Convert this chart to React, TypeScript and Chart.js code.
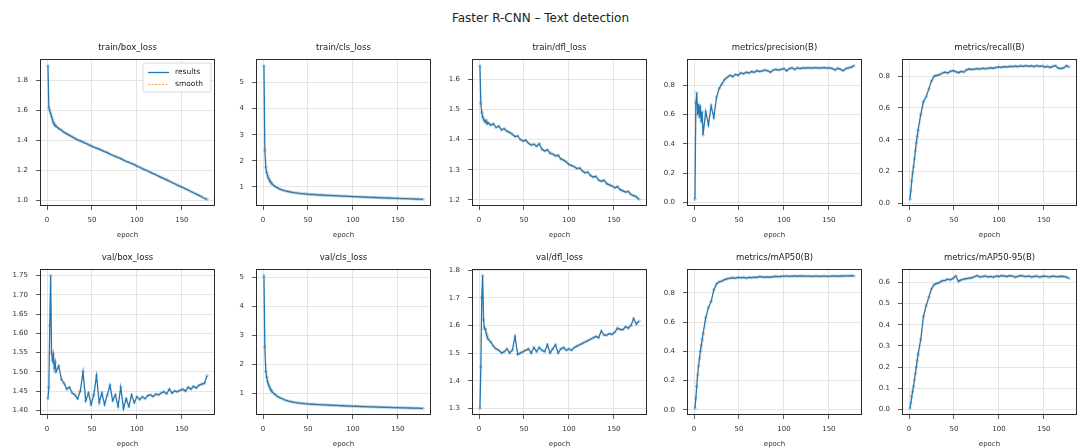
import React, { useEffect, useRef } from "react";
import { Chart, registerables } from "chart.js";

Chart.register(...registerables);

// Epochs at which the training log is plotted
const EPOCHS = [
  1, 2, 3, 4, 5, 6, 7, 8, 9, 10, 13, 16, 19, 22, 25, 28, 31, 34, 37, 40, 43, 46, 49, 52, 55, 58, 61, 64, 67, 70,
  73, 76, 79, 82, 85, 88, 91, 94, 97, 100, 103, 106, 109, 112, 115, 118, 121, 124, 127, 130, 133, 136, 139, 142,
  145, 148, 151, 154, 157, 160, 163, 166, 169, 172, 175, 178,
];

const TRAIN_BOX_LOSS = [
  1.9, 1.62, 1.6, 1.58, 1.56, 1.54, 1.52, 1.51, 1.5, 1.495,
  1.48, 1.47, 1.455, 1.445, 1.435, 1.425, 1.415, 1.405, 1.398, 1.39,
  1.382, 1.373, 1.365, 1.357, 1.35, 1.343, 1.335, 1.327, 1.32, 1.31,
  1.302, 1.295, 1.287, 1.28, 1.27, 1.262, 1.255, 1.247, 1.24, 1.23,
  1.222, 1.213, 1.205, 1.197, 1.188, 1.18, 1.172, 1.163, 1.155, 1.146,
  1.138, 1.13, 1.12, 1.112, 1.103, 1.095, 1.087, 1.078, 1.07, 1.06,
  1.052, 1.043, 1.034, 1.025, 1.015, 1.008,
];

const TRAIN_CLS_LOSS = [
  5.65, 2.4, 1.75, 1.55, 1.42, 1.33, 1.26, 1.2, 1.15, 1.11,
  1.02, 0.96, 0.91, 0.87, 0.84, 0.82, 0.8, 0.78, 0.765, 0.75,
  0.74, 0.73, 0.72, 0.71, 0.705, 0.7, 0.69, 0.685, 0.68, 0.675,
  0.67, 0.665, 0.66, 0.655, 0.65, 0.645, 0.64, 0.635, 0.63, 0.625,
  0.62, 0.615, 0.61, 0.605, 0.6, 0.597, 0.593, 0.59, 0.585, 0.58,
  0.577, 0.573, 0.57, 0.565, 0.562, 0.558, 0.555, 0.55, 0.547, 0.543,
  0.54, 0.535, 0.532, 0.528, 0.525, 0.52,
];

const TRAIN_DFL_LOSS = [
  1.645, 1.52, 1.49, 1.475, 1.468, 1.462, 1.458, 1.463, 1.452, 1.456,
  1.448, 1.452, 1.44, 1.445, 1.432, 1.436, 1.428, 1.424, 1.418, 1.41,
  1.412, 1.4, 1.395, 1.398, 1.388, 1.382, 1.385, 1.378, 1.386, 1.368,
  1.362, 1.366, 1.355, 1.352, 1.346, 1.348, 1.336, 1.332, 1.326, 1.318,
  1.314, 1.31, 1.304, 1.306, 1.296, 1.29, 1.292, 1.281, 1.276, 1.278,
  1.266, 1.262, 1.265, 1.254, 1.25, 1.246, 1.24, 1.244, 1.234, 1.23,
  1.226, 1.228, 1.218, 1.214, 1.21, 1.202,
];

const PRECISION = [
  0.02, 0.68, 0.75, 0.6, 0.67, 0.58, 0.66, 0.55, 0.62, 0.46,
  0.62, 0.53, 0.66, 0.58, 0.72, 0.78, 0.81, 0.84, 0.855, 0.87,
  0.86, 0.875, 0.87, 0.885, 0.88, 0.89, 0.885, 0.895, 0.89, 0.9,
  0.895, 0.9, 0.905, 0.9, 0.89, 0.905, 0.91, 0.905, 0.91, 0.915,
  0.9, 0.915, 0.92, 0.91, 0.92, 0.915, 0.92, 0.918, 0.922, 0.918,
  0.92, 0.922, 0.918, 0.92, 0.922, 0.918, 0.92, 0.915, 0.905, 0.918,
  0.91, 0.9, 0.915, 0.92, 0.925, 0.935,
];

const RECALL = [
  0.025, 0.08, 0.14, 0.19, 0.23, 0.28, 0.33, 0.38, 0.42, 0.46,
  0.56, 0.64, 0.67, 0.72, 0.77, 0.8, 0.805, 0.81, 0.82, 0.825,
  0.82, 0.83, 0.835, 0.828, 0.822, 0.83, 0.826, 0.84, 0.845, 0.842,
  0.845, 0.848, 0.845, 0.85, 0.846, 0.85, 0.852, 0.85, 0.855, 0.858,
  0.856, 0.86, 0.858, 0.862, 0.86, 0.863, 0.86, 0.865, 0.862, 0.866,
  0.862, 0.865, 0.86, 0.866, 0.862, 0.864, 0.858, 0.862, 0.855, 0.862,
  0.866, 0.85, 0.848, 0.852, 0.865, 0.858,
];

const VAL_BOX_LOSS = [
  1.43, 1.46, 1.62, 1.75, 1.55, 1.53, 1.545, 1.51, 1.525, 1.5,
  1.515, 1.48, 1.47, 1.455, 1.46, 1.445, 1.44, 1.43, 1.45, 1.5,
  1.425, 1.445, 1.415, 1.44, 1.49, 1.42, 1.445, 1.415, 1.44, 1.465,
  1.425, 1.44, 1.41, 1.46, 1.405, 1.43, 1.41, 1.44, 1.42, 1.435,
  1.428, 1.435, 1.43, 1.438, 1.44, 1.436, 1.442, 1.44, 1.445, 1.448,
  1.443, 1.455, 1.445, 1.45, 1.448, 1.452, 1.455, 1.45, 1.46, 1.455,
  1.462, 1.458, 1.465, 1.468, 1.47, 1.49,
];

const VAL_CLS_LOSS = [
  5.05, 2.6, 1.75, 1.55, 1.4, 1.3, 1.22, 1.15, 1.1, 1.05,
  0.96, 0.89, 0.84, 0.8, 0.76, 0.73, 0.71, 0.69, 0.675, 0.66,
  0.65, 0.64, 0.635, 0.625, 0.62, 0.615, 0.61, 0.605, 0.6, 0.598,
  0.59, 0.585, 0.58, 0.578, 0.572, 0.568, 0.565, 0.56, 0.556, 0.552,
  0.55, 0.545, 0.542, 0.54, 0.535, 0.532, 0.53, 0.526, 0.523, 0.52,
  0.517, 0.514, 0.512, 0.51, 0.506, 0.503, 0.5, 0.498, 0.495, 0.493,
  0.49, 0.488, 0.485, 0.483, 0.48, 0.478,
];

const VAL_DFL_LOSS = [
  1.3, 1.45, 1.7, 1.78, 1.62, 1.59, 1.585, 1.57, 1.56, 1.55,
  1.54, 1.525, 1.515, 1.51, 1.5, 1.505, 1.515, 1.5, 1.51, 1.56,
  1.495, 1.5, 1.505, 1.51, 1.515, 1.5, 1.52, 1.505, 1.52, 1.51,
  1.505, 1.53, 1.5, 1.515, 1.53, 1.5, 1.515, 1.52, 1.51, 1.515,
  1.51, 1.52, 1.525, 1.53, 1.535, 1.54, 1.545, 1.55, 1.555, 1.56,
  1.555, 1.58, 1.565, 1.565, 1.57, 1.568, 1.575, 1.59, 1.585, 1.585,
  1.595, 1.59, 1.6, 1.625, 1.605, 1.615,
];

const MAP50 = [
  0.01, 0.08, 0.16, 0.24, 0.3, 0.35, 0.4, 0.44, 0.48, 0.52,
  0.63, 0.7, 0.74, 0.82, 0.86, 0.875, 0.88, 0.89, 0.895, 0.9,
  0.902, 0.9, 0.905, 0.903, 0.905, 0.9, 0.905, 0.903, 0.906, 0.905,
  0.91, 0.908, 0.906, 0.908, 0.906, 0.91, 0.912, 0.91, 0.912, 0.913,
  0.914, 0.912, 0.914, 0.915, 0.913, 0.915, 0.914, 0.913, 0.914, 0.912,
  0.913, 0.914, 0.912, 0.913, 0.914, 0.912, 0.913, 0.915, 0.914, 0.913,
  0.915, 0.914, 0.916, 0.915, 0.917, 0.915,
];

const MAP50_95 = [
  0.005, 0.03, 0.06, 0.085, 0.11, 0.14, 0.17, 0.2, 0.23, 0.26,
  0.33, 0.44, 0.49, 0.53, 0.57, 0.59, 0.595, 0.6, 0.608, 0.61,
  0.615, 0.612, 0.62, 0.63, 0.605, 0.612, 0.615, 0.618, 0.62, 0.622,
  0.628, 0.632, 0.625, 0.628, 0.63, 0.626, 0.628, 0.625, 0.63, 0.628,
  0.632, 0.63, 0.628, 0.632, 0.63, 0.625, 0.628, 0.632, 0.63, 0.627,
  0.63, 0.626, 0.628, 0.63, 0.625, 0.628, 0.63, 0.627, 0.626, 0.63,
  0.628, 0.627, 0.629, 0.628, 0.625, 0.62,
];

const SUPTITLE = "Faster R-CNN – Text detection";
const X_TICKS = [0, 50, 100, 150];
const X_LABEL = "epoch";

const PANEL_TITLES = [
  "train/box_loss", "train/cls_loss", "train/dfl_loss", "metrics/precision(B)", "metrics/recall(B)",
  "val/box_loss", "val/cls_loss", "val/dfl_loss", "metrics/mAP50(B)", "metrics/mAP50-95(B)",
];
const PANEL_VALUES = [
  TRAIN_BOX_LOSS, TRAIN_CLS_LOSS, TRAIN_DFL_LOSS, PRECISION, RECALL,
  VAL_BOX_LOSS, VAL_CLS_LOSS, VAL_DFL_LOSS, MAP50, MAP50_95,
];
const PANEL_Y_TICKS = [
  [1.0, 1.2, 1.4, 1.6, 1.8],
  [1, 2, 3, 4, 5],
  [1.2, 1.3, 1.4, 1.5, 1.6],
  [0.0, 0.2, 0.4, 0.6, 0.8],
  [0.0, 0.2, 0.4, 0.6, 0.8],
  [1.4, 1.45, 1.5, 1.55, 1.6, 1.65, 1.7, 1.75],
  [1, 2, 3, 4, 5],
  [1.3, 1.4, 1.5, 1.6, 1.7, 1.8],
  [0.0, 0.2, 0.4, 0.6, 0.8],
  [0.0, 0.1, 0.2, 0.3, 0.4, 0.5, 0.6],
];
const PANEL_Y_DECIMALS = [1, 0, 1, 1, 1, 2, 0, 1, 1, 1];
const LEGEND_LABELS = ["results", "smooth"];

// Layout of the 2 x 5 grid (plot-area boxes, in page pixels)
const COL_LEFT = [40, 256, 472, 687, 902];
const ROW_TOP = [59, 269];
const PLOT_W = 177;
const PLOT_H = [147, 146];
const Y_AXIS_W = 38;
const X_AXIS_H = 33;
const PAD_TOP = 24;
const PAD_RIGHT = 2;

const FONT = "'DejaVu Sans', sans-serif";
const BLUE = "#1f77b4";
const ORANGE = "#ff7f0e";

function paddedRange(vals: number[]): [number, number] {
  const lo = Math.min(...vals);
  const hi = Math.max(...vals);
  const m = (hi - lo) * 0.05;
  return [lo - m, hi + m];
}

// Gaussian-weighted running mean of the logged values (sigma in epochs)
function smoothSeries(xs: number[], ys: number[], sigma = 3): number[] {
  return ys.map((_, i) => {
    let w = 0;
    let s = 0;
    for (let j = 0; j < ys.length; j++) {
      const d = xs[j] - xs[i];
      const k = Math.exp((-d * d) / (2 * sigma * sigma));
      w += k;
      s += k * ys[j];
    }
    return s / w;
  });
}

const framePlugin = {
  id: "frame",
  afterDraw(chart: any) {
    const { ctx, chartArea: a } = chart;
    ctx.save();
    ctx.strokeStyle = "#2a2a2a";
    ctx.lineWidth = 1;
    ctx.strokeRect(Math.round(a.left) + 0.5, Math.round(a.top) + 0.5, Math.round(a.right - a.left) - 1, Math.round(a.bottom - a.top) - 1);
    ctx.restore();
  },
};

const panelTitlePlugin = {
  id: "panelTitle",
  afterDraw(chart: any, _args: any, opts: any) {
    const { ctx, chartArea: a } = chart;
    ctx.save();
    ctx.font = `8.5px ${FONT}`;
    ctx.fillStyle = "#222";
    ctx.textAlign = "center";
    ctx.textBaseline = "middle";
    ctx.fillText(opts.text, (a.left + a.right) / 2, a.top - 11);
    ctx.restore();
  },
};

const cornerLegendPlugin = {
  id: "cornerLegend",
  afterDraw(chart: any, _args: any, opts: any) {
    if (!opts.show) return;
    const { ctx, chartArea: a } = chart;
    const w = 68;
    const h = 29;
    const x = a.right - w - 4;
    const y = a.top + 4;
    ctx.save();
    ctx.fillStyle = "rgba(255,255,255,0.85)";
    ctx.strokeStyle = "#d0d0d0";
    ctx.lineWidth = 0.8;
    ctx.beginPath();
    ctx.roundRect(x, y, w, h, 2);
    ctx.fill();
    ctx.stroke();
    ctx.font = `7.5px ${FONT}`;
    ctx.fillStyle = "#222";
    ctx.textBaseline = "middle";
    const rows = [Math.round(y + 8.5) + 0.5, Math.round(y + 20.5) + 0.5];
    ctx.lineWidth = 1.3;
    ctx.strokeStyle = BLUE;
    ctx.beginPath();
    ctx.moveTo(x + 5, rows[0]);
    ctx.lineTo(x + 26, rows[0]);
    ctx.stroke();
    ctx.strokeStyle = "rgba(255,127,14,0.75)";
    ctx.lineWidth = 1;
    ctx.setLineDash([2, 1.5]);
    ctx.beginPath();
    ctx.moveTo(x + 5, rows[1]);
    ctx.lineTo(x + 26, rows[1]);
    ctx.stroke();
    ctx.setLineDash([]);
    ctx.fillText(opts.labels[0], x + 32, rows[0]);
    ctx.fillText(opts.labels[1], x + 32, rows[1]);
    ctx.restore();
  },
};

export default function App() {
  const refs = useRef<(HTMLCanvasElement | null)[]>([]);

  useEffect(() => {
    const first = EPOCHS[0];
    const last = EPOCHS[EPOCHS.length - 1];
    const xLo = first - 0.05 * (last - first);
    const xHi = last + 0.05 * (last - first);
    const charts = PANEL_VALUES.map((vals, i) => {
      const canvas = refs.current[i] as HTMLCanvasElement;
      const [yLo, yHi] = paddedRange(vals);
      const smooth = smoothSeries(EPOCHS, vals);
      const yTicks = PANEL_Y_TICKS[i];
      const dec = PANEL_Y_DECIMALS[i];
      const tickFont = { family: FONT, size: 7 };
      const grid = { color: "#dedede", lineWidth: 0.8, tickColor: "#333", tickLength: 4, tickWidth: 0.8 };
      return new Chart(canvas, {
        type: "line",
        data: {
          datasets: [
            {
              label: LEGEND_LABELS[0],
              data: EPOCHS.map((x, k) => ({ x, y: vals[k] })),
              borderColor: BLUE,
              borderWidth: 1.3,
              pointRadius: 1.8,
              pointBorderWidth: 0,
              pointBackgroundColor: "rgba(31,119,180,0.3)",
              tension: 0,
              order: 1,
            },
            {
              label: LEGEND_LABELS[1],
              data: EPOCHS.map((x, k) => ({ x, y: smooth[k] })),
              borderColor: "rgba(255,127,14,0.4)",
              borderWidth: 1,
              borderDash: [1.5, 1.5],
              pointRadius: 0,
              tension: 0,
              order: 0,
            },
          ],
        },
        options: {
          animation: false,
          responsive: false,
          devicePixelRatio: 1,
          layout: { padding: { top: PAD_TOP, right: PAD_RIGHT, left: 0, bottom: 0 } },
          plugins: {
            legend: { display: false },
            tooltip: { enabled: false },
            panelTitle: { text: PANEL_TITLES[i] },
            cornerLegend: { show: i === 0, labels: LEGEND_LABELS },
          } as any,
          scales: {
            x: {
              type: "linear",
              min: xLo,
              max: xHi,
              afterBuildTicks: (s: any) => {
                s.ticks = X_TICKS.map((v) => ({ value: v }));
              },
              afterFit: (s: any) => {
                s.height = X_AXIS_H;
              },
              border: { display: false },
              grid,
              ticks: { font: tickFont, color: "#333", padding: 6, maxRotation: 0, autoSkip: false, callback: (v: any) => String(v) },
              title: { display: true, text: X_LABEL, font: { family: FONT, size: 7 }, color: "#333", padding: 0 },
            },
            y: {
              type: "linear",
              min: yLo,
              max: yHi,
              afterBuildTicks: (s: any) => {
                s.ticks = yTicks.map((v) => ({ value: v }));
              },
              afterFit: (s: any) => {
                s.width = Y_AXIS_W;
              },
              border: { display: false },
              grid,
              ticks: { font: tickFont, color: "#333", padding: 8, autoSkip: false, callback: (v: any) => Number(v).toFixed(dec) },
            },
          },
        },
        plugins: [framePlugin, panelTitlePlugin, cornerLegendPlugin],
      } as any);
    });
    return () => charts.forEach((c) => c.destroy());
  }, []);

  return (
    <div style={{ position: "absolute", left: 0, top: 0, width: 1081, height: 448, background: "#fff", overflow: "hidden" }}>
      <div
        style={{
          position: "absolute",
          left: 0,
          top: 11,
          width: 1081,
          textAlign: "center",
          fontFamily: FONT,
          fontSize: 12,
          lineHeight: "15px",
          color: "#222",
        }}
      >
        {SUPTITLE}
      </div>
      {PANEL_VALUES.map((_, i) => {
        const row = Math.floor(i / 5);
        const col = i % 5;
        const w = Y_AXIS_W + PLOT_W + PAD_RIGHT;
        const h = PAD_TOP + PLOT_H[row] + X_AXIS_H;
        return (
          <canvas
            key={i}
            ref={(el) => {
              refs.current[i] = el;
            }}
            width={w}
            height={h}
            style={{ position: "absolute", left: COL_LEFT[col] - Y_AXIS_W, top: ROW_TOP[row] - PAD_TOP, width: w, height: h }}
          />
        );
      })}
    </div>
  );
}
